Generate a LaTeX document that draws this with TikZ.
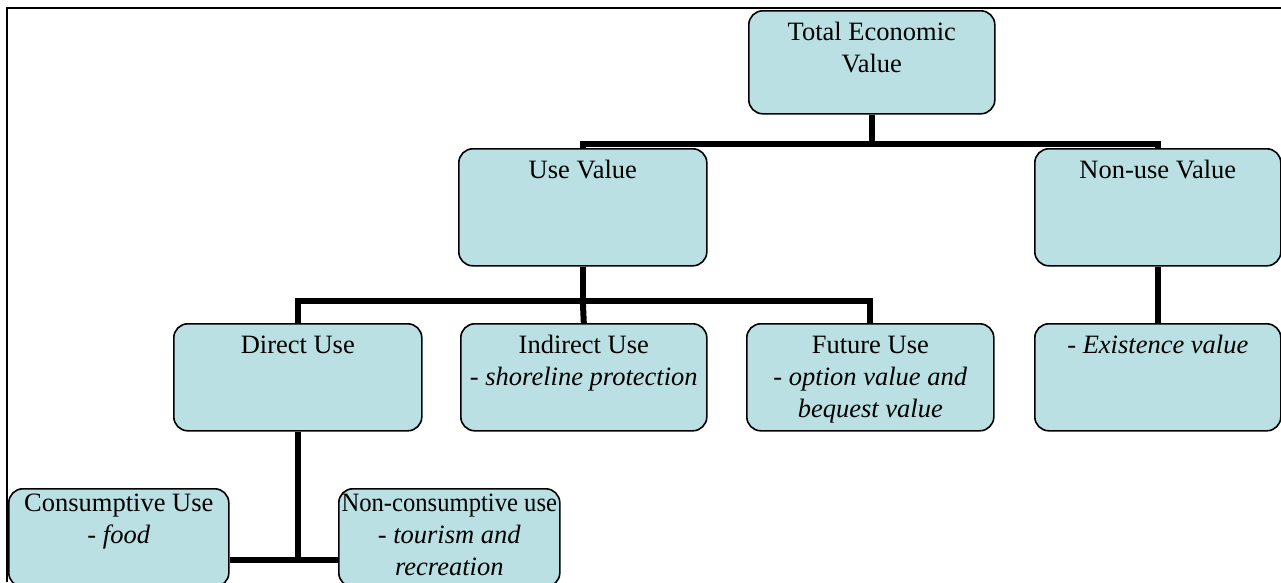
\documentclass[tikz,border=0pt]{standalone}
\usepackage{fontspec}
\setmainfont{Liberation Serif}
\definecolor{boxfill}{RGB}{186,224,227}
\newcommand{\valtext}[4][7pt]{\parbox[t][#3][t]{#2}{\centering\vspace*{#1}\strut #4}}

\begin{document}
\begin{tikzpicture}[x=1pt,y=-1pt,
  valbox/.style={draw=black,line width=1.6pt,fill=boxfill,rounded corners=14pt,
    inner sep=0pt,anchor=north west,font=\fontsize{26.5}{32}\selectfont},
  link/.style={line width=6pt}]
\useasboundingbox (0,0) rectangle (1281,582);
\clip (0,0) rectangle (1281,582);

% frame
\draw [line width=2pt] (7,582) -- (7,8) -- (1281,8);

% top level
\node [valbox] (tev) at (748,10) {\valtext{246pt}{103pt}{Total Economic\\Value}};

% second level
\node [valbox] (use) at (458,148) {\valtext{248pt}{117pt}{Use Value}};
\node [valbox] (nonuse) at (1034,148) {\valtext{246pt}{117pt}{Non-use Value}};

% third level
\node [valbox] (direct) at (173,323) {\valtext{248pt}{107pt}{Direct Use}};
\node [valbox] (indirect) at (460,323) {\valtext{246pt}{107pt}{Indirect Use\\- \textit{shoreline protection}}};
\node [valbox] (future) at (746,323) {\valtext{247pt}{107pt}{Future Use\\- \textit{option value and}\\\textit{bequest value}}};
\node [valbox] (exist) at (1034,323) {\valtext{246pt}{107pt}{- \textit{Existence value}}};

% fourth level
\node [valbox] (consump) at (8,488) {\valtext[0pt]{220pt}{98pt}{Consumptive Use\\- \textit{food}}};
\node [valbox] (noncons) at (338,488) {\valtext[0pt]{221pt}{98pt}{\makebox[\linewidth]{\scalebox{0.93}[1]{Non-consumptive use}}\\- \textit{tourism and}\\\textit{recreation}}};

% connectors
\draw [link] (tev.south) -- ++(0,29) coordinate (tevbar);
\draw [link] (use.north) |- (tevbar) -| (nonuse.north);
\draw [link] (use.south) -- ++(0,34) coordinate (usebar);
\draw [link] (direct.north) |- (usebar) -| (future.north);
\draw [link] (usebar) -- (indirect.north);
\draw [link] (nonuse.south) -- (exist.north);
\draw [link] (direct.south) -- ++(0,128) coordinate (directbar);
\draw [link] (consump.east |- directbar) -- (noncons.west |- directbar);
\end{tikzpicture}
\end{document}
